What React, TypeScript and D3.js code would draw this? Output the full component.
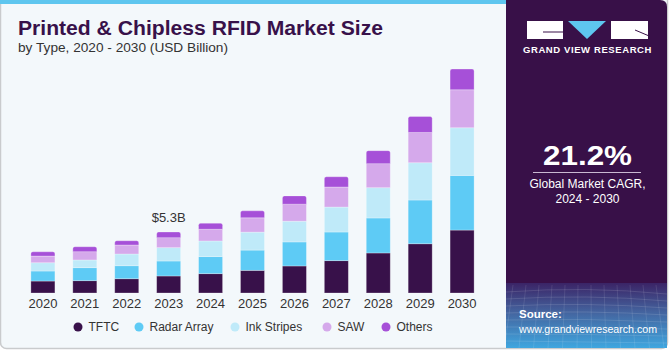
import { useEffect, useMemo } from "react";
import { scaleBand, scaleLinear, stack } from "d3";

const WIDTH = 671;
const HEIGHT = 350;

const years = ["2020", "2021", "2022", "2023", "2024", "2025", "2026", "2027", "2028", "2029", "2030"];
const segments = ["TFTC", "Radar Array", "Ink Stripes", "SAW", "Others"];
const colors = ["#38114a", "#5ecbf5", "#bfeaf9", "#d5a9eb", "#a650d8"];

const tftc = [1.04, 1.07, 1.24, 1.48, 1.68, 1.97, 2.35, 2.81, 3.48, 4.28, 5.47];
const radarArray = [0.87, 1.13, 1.13, 1.3, 1.48, 1.76, 2.09, 2.49, 3.04, 3.8, 4.75];
const inkStripes = [0.72, 0.67, 1.02, 1.16, 1.36, 1.56, 1.8, 2.17, 2.63, 3.24, 4.14];
const saw = [0.58, 0.72, 0.78, 0.87, 1.02, 1.24, 1.48, 1.74, 2.09, 2.63, 3.3];
const others = [0.37, 0.43, 0.37, 0.49, 0.52, 0.61, 0.72, 0.89, 1.13, 1.39, 1.8];

const calloutYear = "2023";
const calloutLabel = "$5.3B";

const FONT = "'Liberation Sans', Arial, sans-serif";

export default function App() {
  useEffect(() => {
    document.body.style.margin = "0";
  }, []);

  const rows = useMemo(
    () =>
      years.map((year, i) => ({
        year,
        TFTC: tftc[i],
        "Radar Array": radarArray[i],
        "Ink Stripes": inkStripes[i],
        SAW: saw[i],
        Others: others[i],
      })),
    []
  );

  const series = useMemo(() => stack<any>().keys(segments)(rows), [rows]);

  const x = scaleBand().domain(years).range([13, 492]).padding(0.427);
  const y = scaleLinear().domain([0, 19.5]).range([293, 68.6]);

  const calloutIndex = years.indexOf(calloutYear);
  const calloutTop = y(series[series.length - 1][calloutIndex][1]);

  const legendX = [78, 139, 235, 327, 386];

  return (
    <svg width={WIDTH} height={HEIGHT} style={{ display: "block" }} fontFamily={FONT}>
      <defs>
        <linearGradient id="srcGrad" x1="0" y1="0" x2="0" y2="1">
          <stop offset="0" stopColor="#3b2466" />
          <stop offset="0.45" stopColor="#44649f" />
          <stop offset="1" stopColor="#3fa6df" />
        </linearGradient>
        <clipPath id="panelClip">
          <path d="M506,0 H660 Q667,0 667,7 V348 H506 Z" />
        </clipPath>
      </defs>

      {/* card */}
      <rect x={0.5} y={-8} width={667} height={356.5} rx={6} fill="#f3f8fb" stroke="#c9cbcd" strokeWidth={1.5} />
      <rect x={0} y={0} width={506} height={4} fill="#5ec6ef" />

      {/* right panel */}
      <g clipPath="url(#panelClip)">
        <rect x={506} y={0} width={161} height={348} fill="#381048" />
        <rect x={506} y={283} width={161} height={65} fill="url(#srcGrad)" />
        {[0, 1, 2, 3, 4, 5, 6, 7].map((i) => (
          <path
            key={"h" + i}
            d={`M506,${292 + i * 7} Q586,${286 + i * 8} 667,${294 + i * 7}`}
            fill="none"
            stroke="#ffffff"
            strokeOpacity={0.12}
          />
        ))}
        {[0, 1, 2, 3, 4, 5, 6, 7, 8, 9, 10, 11, 12, 13].map((i) => (
          <line
            key={"v" + i}
            x1={500 + i * 13}
            y1={285}
            x2={490 + i * 14.5}
            y2={348}
            stroke="#ffffff"
            strokeOpacity={0.1}
          />
        ))}
      </g>

      {/* logo */}
      <rect x={527} y={21} width={36} height={18} fill="#ffffff" />
      <path d="M543,32 H563" stroke="#381048" strokeWidth={1} />
      <path d="M568,21 H606 L587,39 Z" fill="#5ec6ef" />
      <rect x={611} y={21} width={37} height={18} fill="#ffffff" />
      <path d="M635,30 L648,35.5" stroke="#381048" strokeWidth={1} />
      <text x={587.5} y={53} textAnchor="middle" fill="#ffffff" fontSize={9.5} fontWeight="bold" letterSpacing={0.6}>
        GRAND VIEW RESEARCH
      </text>

      {/* CAGR */}
      <text
        x={587.5}
        y={164.5}
        textAnchor="middle"
        fill="#ffffff"
        fontSize={28}
        fontWeight="bold"
        textLength={89}
        lengthAdjust="spacingAndGlyphs"
      >
        21.2%
      </text>
      <line x1={533} x2={641} y1={172.5} y2={172.5} stroke="#c9b9d2" strokeWidth={1} />
      <text x={587.5} y={188} textAnchor="middle" fill="#ffffff" fontSize={12}>
        Global Market CAGR,
      </text>
      <text x={587.5} y={203} textAnchor="middle" fill="#ffffff" fontSize={12}>
        2024 - 2030
      </text>

      {/* source */}
      <text x={519} y={318} fill="#ffffff" fontSize={11.5} fontWeight="bold">
        Source:
      </text>
      <text x={519} y={333} fill="#ffffff" fontSize={11.5} textLength={138} lengthAdjust="spacingAndGlyphs">
        www.grandviewresearch.com
      </text>

      {/* title */}
      <text x={18} y={35} fill="#38114a" fontSize={19.5} fontWeight="bold" textLength={365} lengthAdjust="spacingAndGlyphs">
        Printed &amp; Chipless RFID Market Size
      </text>
      <text x={18} y={52} fill="#333333" fontSize={13} textLength={210} lengthAdjust="spacingAndGlyphs">
        by Type, 2020 - 2030 (USD Billion)
      </text>

      {/* bars */}
      {series.map((s, si) => (
        <g key={segments[si]}>
          {s.map((d: any) => {
            const top = y(d[1]);
            const bottom = y(d[0]);
            const bx = x(d.data.year) ?? 0;
            const bw = x.bandwidth();
            const isTop = si === series.length - 1;
            return isTop ? (
              <path
                key={d.data.year}
                d={`M${bx},${bottom} V${top + 2} Q${bx},${top} ${bx + 2},${top} H${bx + bw - 2} Q${bx + bw},${top} ${bx + bw},${top + 2} V${bottom} Z`}
                fill={colors[si]}
                stroke="#ffffff"
                strokeOpacity={0.35}
                strokeWidth={0.8}
              />
            ) : (
              <rect
                key={d.data.year}
                x={bx}
                y={top}
                width={bw}
                height={bottom - top}
                fill={colors[si]}
                stroke="#ffffff"
                strokeOpacity={0.35}
                strokeWidth={0.8}
              />
            );
          })}
        </g>
      ))}

      {/* callout */}
      <text
        x={(x(calloutYear) ?? 0) + x.bandwidth() / 2}
        y={calloutTop - 10}
        textAnchor="middle"
        fill="#333333"
        fontSize={13}
      >
        {calloutLabel}
      </text>

      {/* x axis labels */}
      {years.map((year) => (
        <text
          key={year}
          x={(x(year) ?? 0) + x.bandwidth() / 2}
          y={308}
          textAnchor="middle"
          fill="#333333"
          fontSize={13}
        >
          {year}
        </text>
      ))}

      {/* legend */}
      {segments.map((name, i) => (
        <g key={name} transform={`translate(${legendX[i]},327)`}>
          <circle r={4.5} fill={colors[i]} />
          <text x={10.5} y={4.3} fill="#333333" fontSize={12}>
            {name}
          </text>
        </g>
      ))}
    </svg>
  );
}
